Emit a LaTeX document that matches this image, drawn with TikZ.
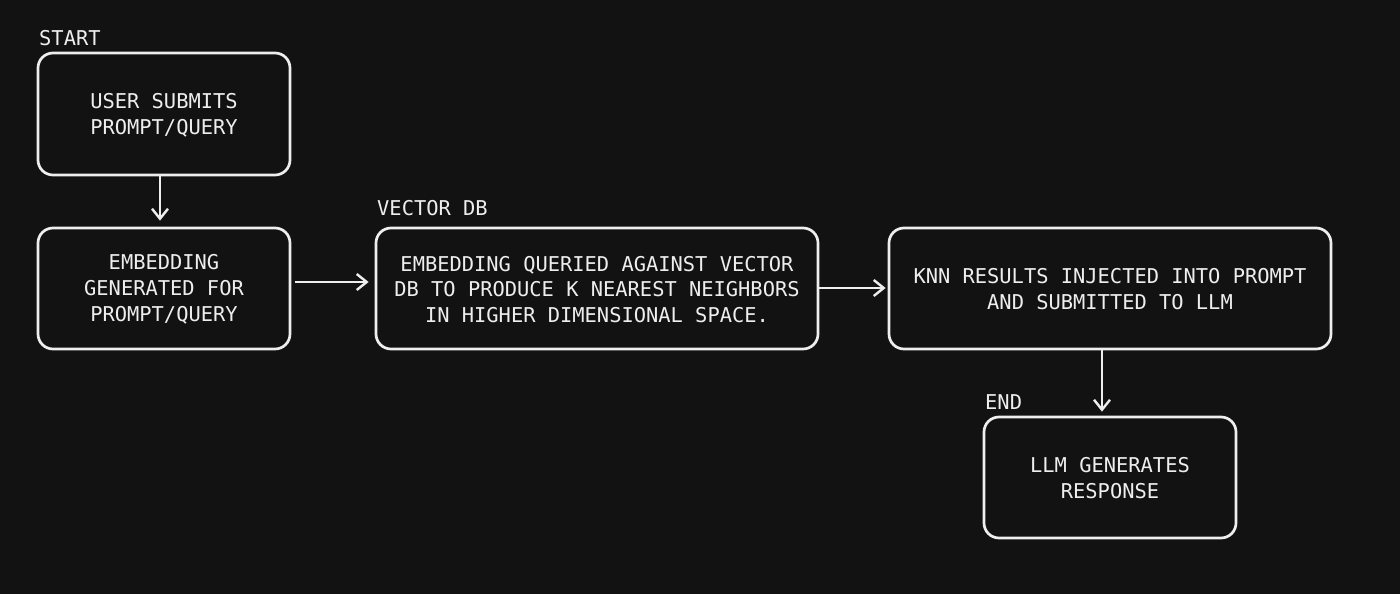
\documentclass[tikz,border=0pt]{standalone}
\usepackage{fontspec}
\newfontfamily\monofnt{DejaVu Sans Mono}
\usetikzlibrary{arrows.meta}
\definecolor{bg}{HTML}{121212}
\definecolor{fg}{HTML}{EEEEEE}
\tikzset{
  box/.style={draw=fg, line width=2.7pt, rounded corners=15pt, fill=bg, text=fg,
    align=center, font=\monofnt\fontsize{20.4pt}{25.8pt}\selectfont, inner sep=0pt},
  lbl/.style={text=fg, anchor=base west, inner sep=0pt, font=\monofnt\fontsize{20.4pt}{25.8pt}\selectfont},
  arr/.style={draw=fg, line width=2.7pt, -{Straight Barb[length=10pt,width=16pt,line width=2.4pt]}}
}
\begin{document}
\begin{tikzpicture}
\fill[bg] (0,0) rectangle (1400pt,-594pt);
\useasboundingbox (0,0) rectangle (1400pt,-594pt);
\node[box, minimum width=252pt, minimum height=122pt] (b1) at (164pt,-114pt) {\rule{0pt}{17pt}USER SUBMITS\\PROMPT/QUERY};
\node[box, minimum width=252pt, minimum height=121pt] (b2) at (164pt,-288.5pt) {\rule{0pt}{17pt}EMBEDDING\\GENERATED FOR\\PROMPT/QUERY};
\node[box, minimum width=442pt, minimum height=121pt] (b3) at (597pt,-288.5pt) {\rule{0pt}{17pt}EMBEDDING QUERIED AGAINST VECTOR\\DB TO PRODUCE K NEAREST NEIGHBORS\\IN HIGHER DIMENSIONAL SPACE.};
\node[box, minimum width=442pt, minimum height=121pt] (b4) at (1110pt,-288.5pt) {\rule{0pt}{17pt}KNN RESULTS INJECTED INTO PROMPT\\AND SUBMITTED TO LLM};
\node[box, minimum width=252pt, minimum height=121pt] (b5) at (1110pt,-477.5pt) {\rule{0pt}{17pt}LLM GENERATES\\RESPONSE};
\node[lbl] (l1) at (39pt,-46pt) {START};
\node[lbl] (l2) at (377pt,-215pt) {VECTOR DB};
\node[lbl] (l3) at (985pt,-409pt) {END};
\draw[arr] ([xshift=-4pt]b1.south) -- ([xshift=-4pt,yshift=6pt]b2.north);
\draw[arr] ([xshift=4pt,yshift=6.5pt]b2.east) -- ([xshift=-6pt,yshift=6.5pt]b3.west);
\draw[arr] ([yshift=0.5pt]b3.east) -- ([xshift=-2pt,yshift=0.5pt]b4.west);
\draw[arr] ([xshift=-8pt]b4.south) -- ([xshift=-8pt,yshift=4pt]b5.north);
\end{tikzpicture}
\end{document}
